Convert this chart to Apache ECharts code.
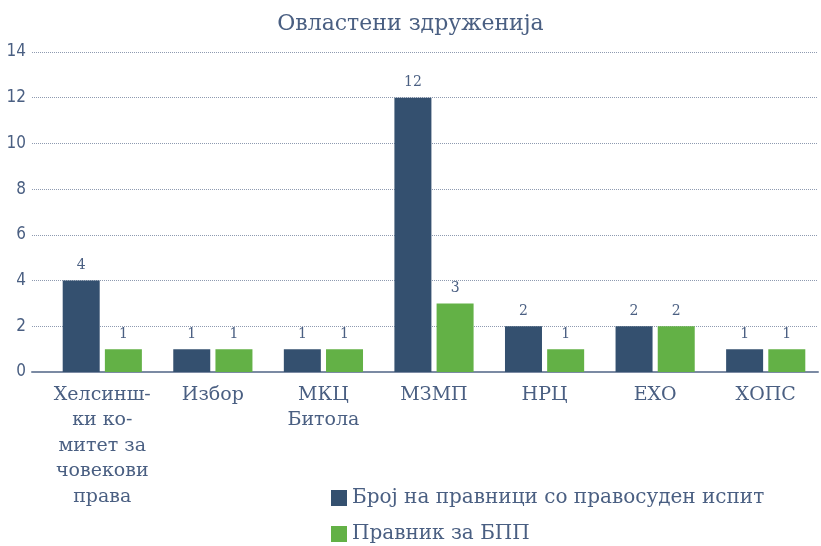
<!DOCTYPE html>
<html>
<head>
<meta charset="utf-8">
<script src="https://cdn.jsdelivr.net/npm/echarts@6/dist/echarts.min.js"></script>
<style>
  html, body { margin: 0; padding: 0; background: #fff; }
  #chart { width: 821px; height: 546px; }
</style>
</head>
<body>
<div id="chart"></div>
<script>
// податоци
const categories = ['Хелсинш-\nки ко-\nмитет за\nчовекови\nправа', 'Избор', 'МКЦ\nБитола', 'МЗМП', 'НРЦ', 'ЕХО', 'ХОПС']
const lawyersExam = [4, 1, 1, 12, 2, 2, 1]
const lawyersBPP = [1, 1, 1, 3, 1, 2, 1]
const seriesNames = ['Број на правници со правосуден испит', 'Правник за БПП']
const yTicks = { min: 0, max: 14, interval: 2 }

const textColor = '#4a5f82'
const serif = 'DejaVu Serif'
const barLabel = { show: true, position: 'top', color: textColor, fontFamily: serif, fontSize: 14, distance: 8 }
const legendText = { color: textColor, fontFamily: serif, fontSize: 20 }

const chart = echarts.init(document.getElementById('chart'))
const option = {
  animation: false,
  title: {
    text: 'Овластени здруженија',
    left: 'center',
    top: 8,
    textStyle: { color: textColor, fontFamily: serif, fontWeight: 'normal', fontSize: 22 }
  },
  // две легенди една под друга
  legend: [
    { left: 326, top: 483, itemWidth: 16, itemHeight: 16, icon: 'rect', textStyle: legendText, data: [seriesNames[0]] },
    { left: 326, top: 519, itemWidth: 16, itemHeight: 16, icon: 'rect', textStyle: legendText, data: [seriesNames[1]] }
  ],
  grid: [
    { left: 32, right: 3, top: 52, bottom: 174 }, // мрежа и y оска
    { left: 47, right: -3, top: 52, bottom: 174 } // столбови
  ],
  xAxis: [
    {
      type: 'value',
      gridIndex: 0,
      min: 0,
      max: 1,
      axisLabel: { show: false },
      axisTick: { show: false },
      splitLine: { show: false },
      axisLine: { show: true, onZero: false, lineStyle: { color: '#7b8aa3', width: 2 } }
    },
    {
      type: 'category',
      gridIndex: 1,
      data: categories,
      axisTick: { show: false },
      axisLine: { show: false },
      axisLabel: { color: textColor, fontFamily: serif, fontSize: 19, lineHeight: 25.5, margin: 10, interval: 0 }
    }
  ],
  yAxis: [
    {
      type: 'value',
      gridIndex: 0,
      ...yTicks,
      axisLine: { show: false },
      axisTick: { show: false },
      axisLabel: { color: textColor, fontFamily: 'DejaVu Sans Condensed', fontSize: 17, margin: 6 },
      splitLine: { lineStyle: { color: '#8e9ab0', type: 'dotted', width: 1 } }
    },
    {
      type: 'value',
      gridIndex: 1,
      ...yTicks,
      show: false,
      splitLine: { show: false }
    }
  ],
  series: [
    {
      name: seriesNames[0],
      type: 'bar',
      xAxisIndex: 1,
      yAxisIndex: 1,
      data: lawyersExam,
      barWidth: 37,
      barGap: '14%',
      itemStyle: { color: '#34506f' },
      label: barLabel
    },
    {
      name: seriesNames[1],
      type: 'bar',
      xAxisIndex: 1,
      yAxisIndex: 1,
      data: lawyersBPP,
      barWidth: 37,
      itemStyle: { color: '#63b146' },
      label: barLabel
    }
  ]
}
chart.setOption(option)
</script>
</body>
</html>
